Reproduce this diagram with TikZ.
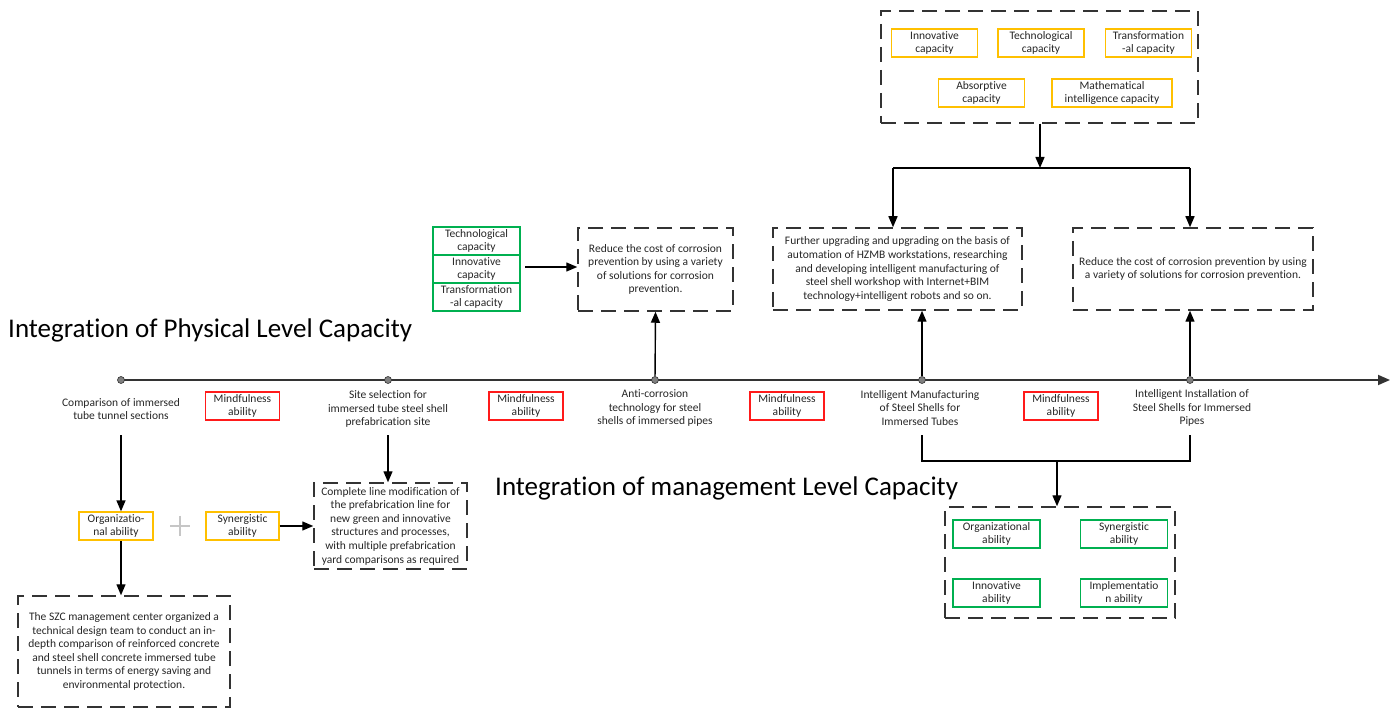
\documentclass[tikz,border=0pt]{standalone}
\usepackage{fontspec}
\setmainfont{Carlito}[Ligatures=NoCommon]
\usetikzlibrary{arrows.meta}
\definecolor{ybox}{HTML}{FFC000}
\definecolor{gbox}{HTML}{00B050}
\definecolor{rbx}{HTML}{FF1A1A}
\definecolor{txt}{HTML}{262626}
\definecolor{ln}{HTML}{333333}
\tikzset{
 every node/.style={font=\fontsize{11.5}{13.6}\selectfont, text=txt, inner sep=0pt},
 dbox/.style={draw=ln, line width=1.5pt, dash pattern=on 15pt off 8pt, align=center},
 ybx/.style={draw=ybox, line width=1.3pt, minimum width=86pt, minimum height=28pt, align=center},
 gbx/.style={draw=gbox, line width=1.3pt, minimum width=87pt, minimum height=28pt, align=center},
 rbox/.style={draw=rbx, line width=1.2pt, minimum width=74pt, minimum height=28pt, align=center},
 lbl/.style={align=center},
 ttl/.style={font=\fontsize{27}{31}\selectfont, text=black, anchor=west},
 arr/.style={draw=black, line width=1.4pt, -{Triangle[length=11pt,width=9pt]}},
 plain/.style={draw=black, line width=1.4pt},
 dot/.style={circle, fill=gray, draw=ln, line width=0.6pt, minimum size=7pt}
}
\begin{document}
\begin{tikzpicture}[x=1pt,y=-1pt]
\useasboundingbox (0,0) rectangle (1395,708);

% ---------- top right capacity box ----------
\node[dbox, minimum width=317pt, minimum height=112pt] (tr) at (1039.5,67) {};
\node[ybx] (yc1) at (934.5,43) {Innovative\\capacity};
\node[ybx] (yc2) at (1041,43) {Technological\\capacity};
\node[ybx] (yc3) at (1148.5,43) {Transformation\\-al capacity};
\node[ybx] (yc4) at (981.5,93) {Absorptive\\capacity};
\node[ybx, minimum width=120pt] (yc5) at (1112,93) {Mathematical\\intelligence capacity};

\coordinate (jt) at (1040,168);
\coordinate (ja) at (893,168);
\coordinate (jb) at (1190,168);

% ---------- upper dashed boxes ----------
\node[dbox, minimum width=155pt, minimum height=83pt] (mb) at (655.5,269.5)
 {Reduce the cost of corrosion\\prevention by using a variety\\of solutions for corrosion\\prevention.};
\node[dbox, minimum width=249pt, minimum height=82pt] (fur) at (897.5,269)
 {Further upgrading and upgrading on the basis of\\automation of HZMB workstations, researching\\and developing intelligent manufacturing of\\steel shell workshop with Internet+BIM\\technology+intelligent robots and so on.};
\node[dbox, minimum width=240pt, minimum height=82pt] (rb) at (1193,269)
 {Reduce the cost of corrosion prevention by using\\a variety of solutions for corrosion prevention.};

% green stack
\node[gbx] (g1) at (476.5,241) {Technological\\capacity};
\node[gbx] (g2) at (476.5,269) {Innovative\\capacity};
\node[gbx] (g3) at (476.5,297) {Transformation\\-al capacity};

% titles
\node[ttl] (t1) at (8,330) {Integration of Physical Level Capacity};
\node[ttl] (t2) at (495,488) {Integration of management Level Capacity};

% ---------- timeline ----------
\coordinate (tstart) at (121,380);
\coordinate (tend) at (1390,380);
\draw[draw=ln, line width=1.8pt, -{Triangle[length=12pt,width=10pt]}] (tstart) -- (tend);
\node[dot] (d1) at (121,380) {};
\node[dot] (d2) at (388,380) {};
\node[dot] (d3) at (655,380) {};
\node[dot] (d4) at (922,380) {};
\node[dot] (d5) at (1190,380) {};

\node[lbl] (l1) at (121,409) {Comparison of immersed\\tube tunnel sections};
\node[lbl] (l2) at (388,409) {Site selection for\\immersed tube steel shell\\prefabrication site};
\node[lbl] (l3) at (655,408) {Anti-corrosion\\technology for steel\\shells of immersed pipes};
\node[lbl] (l4) at (920,408) {Intelligent Manufacturing\\of Steel Shells for\\Immersed Tubes};
\node[lbl] (l5) at (1192,408) {Intelligent Installation of\\Steel Shells for Immersed\\Pipes};

\node[rbox] (m1) at (242.5,406) {Mindfulness\\ability};
\node[rbox] (m2) at (526,406) {Mindfulness\\ability};
\node[rbox] (m3) at (787,406) {Mindfulness\\ability};
\node[rbox] (m4) at (1061,406) {Mindfulness\\ability};

% ---------- lower left ----------
\node[ybx, minimum width=74pt] (org) at (116,526) {Organizatio-\\nal ability};
\node[ybx, minimum width=73pt] (syn) at (242.5,526) {Synergistic\\ability};
\node[dbox, minimum width=153pt, minimum height=86pt] (cl) at (390.5,526)
 {Complete line modification of\\the prefabrication line for\\new green and innovative\\structures and processes,\\with multiple prefabrication\\yard comparisons as required};
\node[dbox, minimum width=212pt, minimum height=111pt] (szc) at (124,651.5)
 {The SZC management center organized a\\technical design team to conduct an in-\\depth comparison of reinforced concrete\\and steel shell concrete immersed tube\\tunnels in terms of energy saving and\\environmental protection.};
\draw[draw=gray!45, line width=2pt] (170,525.5) -- (190,525.5) (180,515.5) -- (180,535.5);

% ---------- lower right ----------
\node[dbox, minimum width=230pt, minimum height=111pt] (br) at (1060,562.5) {};
\node[gbx] (b1) at (996.5,534) {Organizational\\ability};
\node[gbx] (b2) at (1124,534) {Synergistic\\ability};
\node[gbx] (b3) at (996.5,593) {Innovative\\ability};
\node[gbx] (b4) at (1124,593) {Implementatio\\n ability};

% ---------- connectors ----------
\draw[arr] (tr.south -| jt) -- (jt);
\draw[plain] (ja) -- (jb);
\draw[arr] (ja) -- (ja |- fur.north);
\draw[arr] (jb) -- (jb |- rb.north);
\coordinate (ga) at (525,267);
\draw[arr] (ga) -- (mb.west |- ga);
\draw[arr] (d3) -- (mb.south);
\draw[arr] (d4) -- (d4 |- fur.south);
\draw[arr] (d5) -- (d5 |- rb.south);

\coordinate (a1) at (121,435);
\draw[arr] (a1) -- (a1 |- org.north);
\coordinate (a2) at (121,541);
\draw[arr] (a2) -- (a2 |- szc.north);
\coordinate (a3) at (388,435);
\draw[arr] (a3) -- (a3 |- cl.north);
\draw[arr] (syn.east) -- (cl.west |- syn.east);

\coordinate (k1) at (922,435);
\coordinate (k2) at (922,461);
\coordinate (k3) at (1190,461);
\coordinate (k4) at (1190,435);
\coordinate (km) at (1057,461);
\draw[plain] (k1) -- (k2) -- (k3) -- (k4);
\draw[arr] (km) -- (km |- br.north);
\end{tikzpicture}
\end{document}
